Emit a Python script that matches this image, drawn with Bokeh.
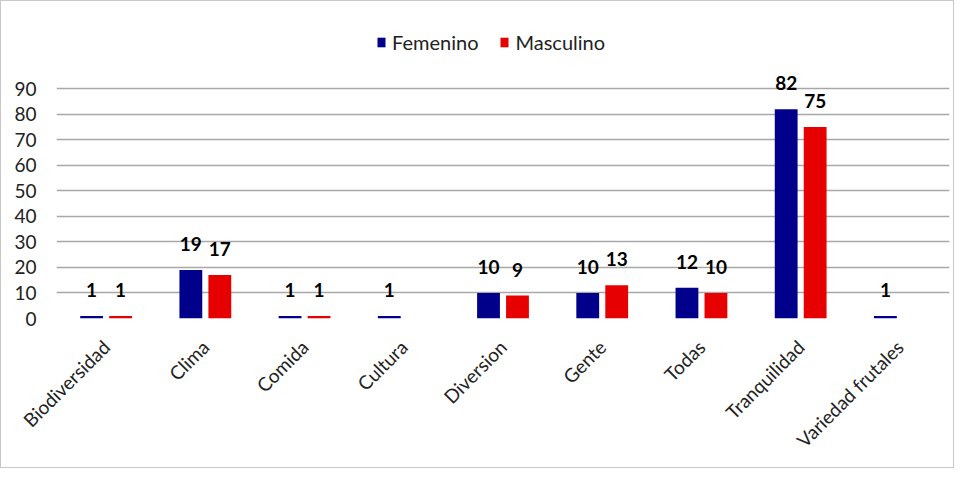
import math
from bokeh.plotting import figure
from bokeh.models import ColumnDataSource, FactorRange, Range1d, FixedTicker, Legend, LegendItem
from bokeh.transform import dodge
from bokeh.core.properties import value
from bokeh.embed import file_html
from bokeh.resources import INLINE

categories = ["Biodiversidad", "Clima", "Comida", "Cultura", "Diversion",
              "Gente", "Todas", "Tranquilidad", "Variedad frutales"]
femenino = [1, 19, 1, 1, 10, 10, 12, 82, 1]
masculino = [1, 17, 1, 0, 9, 13, 10, 75, 0]
y_ticks = [0, 10, 20, 30, 40, 50, 60, 70, 80, 90]

NAVY = "#00008B"
RED = "#E60000"
FONT = "Lato"

src = ColumnDataSource(dict(
    cat=categories,
    fem=femenino,
    mas=masculino,
    fem_lbl=[str(v) if v else "" for v in femenino],
    mas_lbl=[str(v) if v else "" for v in masculino],
))

p = figure(x_range=FactorRange(*categories), y_range=Range1d(0, 114),
           width=954, height=468, output_backend="svg", toolbar_location=None,
           min_border_left=55, min_border_right=6, min_border_top=26,
           min_border_bottom=151)
p.styles = {"border": "1px solid #c8c8c8"}
p.outline_line_color = None
p.background_fill_color = "white"
p.border_fill_color = "white"

r_f = p.vbar(x=dodge("cat", -0.146, range=p.x_range), top="fem", width=0.23,
             source=src, fill_color=NAVY, line_color=None)
r_m = p.vbar(x=dodge("cat", 0.146, range=p.x_range), top="mas", width=0.23,
             source=src, fill_color=RED, line_color=None)

p.text(x=dodge("cat", -0.146, range=p.x_range), y="fem", text="fem_lbl", source=src,
       text_align="center", text_baseline="bottom", y_offset=-19,
       text_font=value(FONT), text_font_style="bold", text_font_size="19px",
       text_color="black")
p.text(x=dodge("cat", 0.146, range=p.x_range), y="mas", text="mas_lbl", source=src,
       text_align="center", text_baseline="bottom", y_offset=-19,
       text_font=value(FONT), text_font_style="bold", text_font_size="19px",
       text_color="black")

p.yaxis.ticker = FixedTicker(ticks=y_ticks)
p.ygrid.ticker = FixedTicker(ticks=y_ticks)
p.ygrid.grid_line_color = "#a8a8a8"
p.ygrid.grid_line_width = 1.5
p.xgrid.grid_line_color = None

p.yaxis.axis_line_color = None
p.yaxis.major_tick_line_color = None
p.yaxis.minor_tick_line_color = None
p.yaxis.major_label_text_font = FONT
p.yaxis.major_label_text_font_size = "19px"
p.yaxis.major_label_text_color = "#222222"
p.yaxis.major_label_standoff = 14

p.xaxis.axis_line_color = None
p.xaxis.major_tick_line_color = None
p.xaxis.minor_tick_line_color = None
p.xaxis.major_label_orientation = math.pi / 4
p.xaxis.major_label_text_font = FONT
p.xaxis.major_label_text_font_size = "19px"
p.xaxis.major_label_text_color = "#222222"
p.xaxis.major_label_standoff = 19

legend = Legend(items=[LegendItem(label="Femenino", renderers=[r_f]),
                       LegendItem(label="Masculino", renderers=[r_m])],
                orientation="horizontal", location=(320, 264))
legend.label_text_font = FONT
legend.label_text_font_size = "20px"
legend.label_text_color = "#222222"
legend.glyph_width = 10
legend.glyph_height = 12
legend.spacing = 21
legend.label_standoff = 6
legend.padding = 0
legend.border_line_color = None
legend.background_fill_alpha = 0
legend.margin = 0
p.add_layout(legend, "center")

open("out.html", "w").write(file_html(p, INLINE))
